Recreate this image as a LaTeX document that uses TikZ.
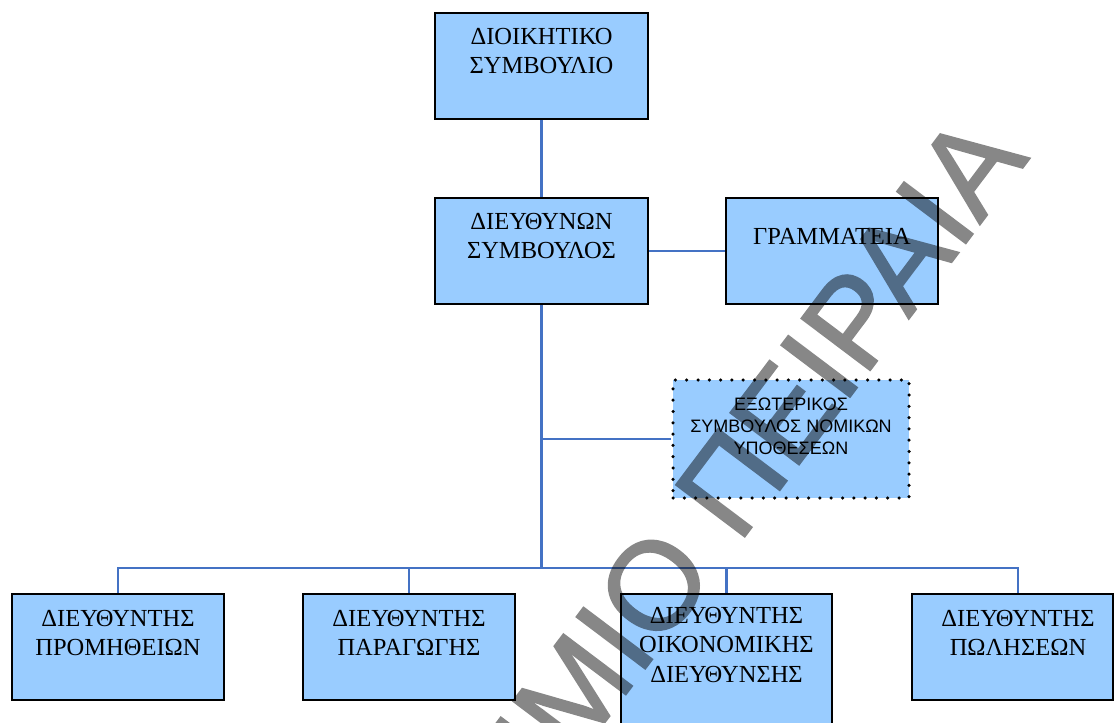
\documentclass[tikz,border=0pt]{standalone}
\usepackage{fontspec}
\setmainfont{Liberation Serif}
\newfontfamily\sansgr{Liberation Sans}
\newfontfamily\wmfont[FakeBold=1.5]{Liberation Sans}
\usetikzlibrary{calc}
\definecolor{boxblue}{HTML}{99CCFF}
\definecolor{connblue}{HTML}{4472C4}
\newcommand{\boxtxt}[4]{\parbox[c][#2][t]{#1}{\centering\vspace*{#3}#4\par}}
\tikzset{
  orgbox/.style={draw=black, line width=2.8pt, fill=boxblue, inner sep=0pt,
    font=\fontsize{24.5}{29.5}\selectfont},
  extbox/.style={draw=black, line width=3.5pt, dash pattern=on 0pt off 11.3pt,
    line cap=round, fill=boxblue, inner sep=0pt,
    font=\sansgr\fontsize{18}{22}\selectfont},
  conn/.style={draw=connblue, line width=2.5pt},
  wmark/.style={text=black, inner sep=0pt,
    font=\wmfont\fontsize{125}{125}\selectfont}
}
\begin{document}
\begin{tikzpicture}[x=1pt,y=-1pt]
\useasboundingbox (0,0) rectangle (1114,723);
\clip (0,0) rectangle (1114,723);
% boxes
\node[orgbox] (dioik) at (541.5,66) {\boxtxt{213pt}{106pt}{15pt}{ΔΙΟΙΚΗΤΙΚΟ\\ΣΥΜΒΟΥΛΙΟ}};
\node[orgbox] (ceo) at (541.5,251) {\boxtxt{213pt}{106pt}{15pt}{ΔΙΕΥΘΥΝΩΝ\\ΣΥΜΒΟΥΛΟΣ}};
\node[orgbox] (gram) at (832,251) {\boxtxt{212pt}{106pt}{30pt}{ΓΡΑΜΜΑΤΕΙΑ}};
\node[extbox] (ext) at (791,439) {\boxtxt{236pt}{118pt}{18pt}{ΕΞΩΤΕΡΙΚΟΣ\\ΣΥΜΒΟΥΛΟΣ ΝΟΜΙΚΩΝ\\ΥΠΟΘΕΣΕΩΝ}};
\node[orgbox] (prom) at (118,647) {\boxtxt{212pt}{106pt}{16pt}{ΔΙΕΥΘΥΝΤΗΣ\\ΠΡΟΜΗΘΕΙΩΝ}};
\node[orgbox] (parag) at (409,647) {\boxtxt{212pt}{106pt}{16pt}{ΔΙΕΥΘΥΝΤΗΣ\\ΠΑΡΑΓΩΓΗΣ}};
\node[orgbox] (oik) at (726.5,664) {\boxtxt{211pt}{140pt}{13pt}{ΔΙΕΥΘΥΝΤΗΣ\\ΟΙΚΟΝΟΜΙΚΗΣ\\ΔΙΕΥΘΥΝΣΗΣ}};
\node[orgbox] (pol) at (1012.5,647) {\boxtxt{201pt}{106pt}{16pt}{\hspace*{11pt}ΔΙΕΥΘΥΝΤΗΣ\\\hspace*{11pt}ΠΩΛΗΣΕΩΝ}};
% connectors
\coordinate (bus) at (541.5,568);
\coordinate (extj) at (541.5,439);
\draw[conn] (dioik) -- (ceo);
\draw[conn] (ceo) -- (gram);
\draw[conn] (ceo.south) -- (bus);
\draw[conn] (extj) -- (ext.west);
\draw[conn] (prom.north) |- (bus);
\draw[conn] (parag.north) |- (bus);
\draw[conn] (oik.north) |- (bus);
\draw[conn] ([xshift=5.5pt]pol.north) |- (bus);
% watermark
\begin{scope}[transparency group, opacity=0.47]
\node[wmark, rotate=53, anchor=base east] (wm) at (1030,158) {ΠΑΝΕΠΙΣΤΗΜΙΟ ΠΕΙΡΑΙΑ};
\end{scope}
\end{tikzpicture}
\end{document}
